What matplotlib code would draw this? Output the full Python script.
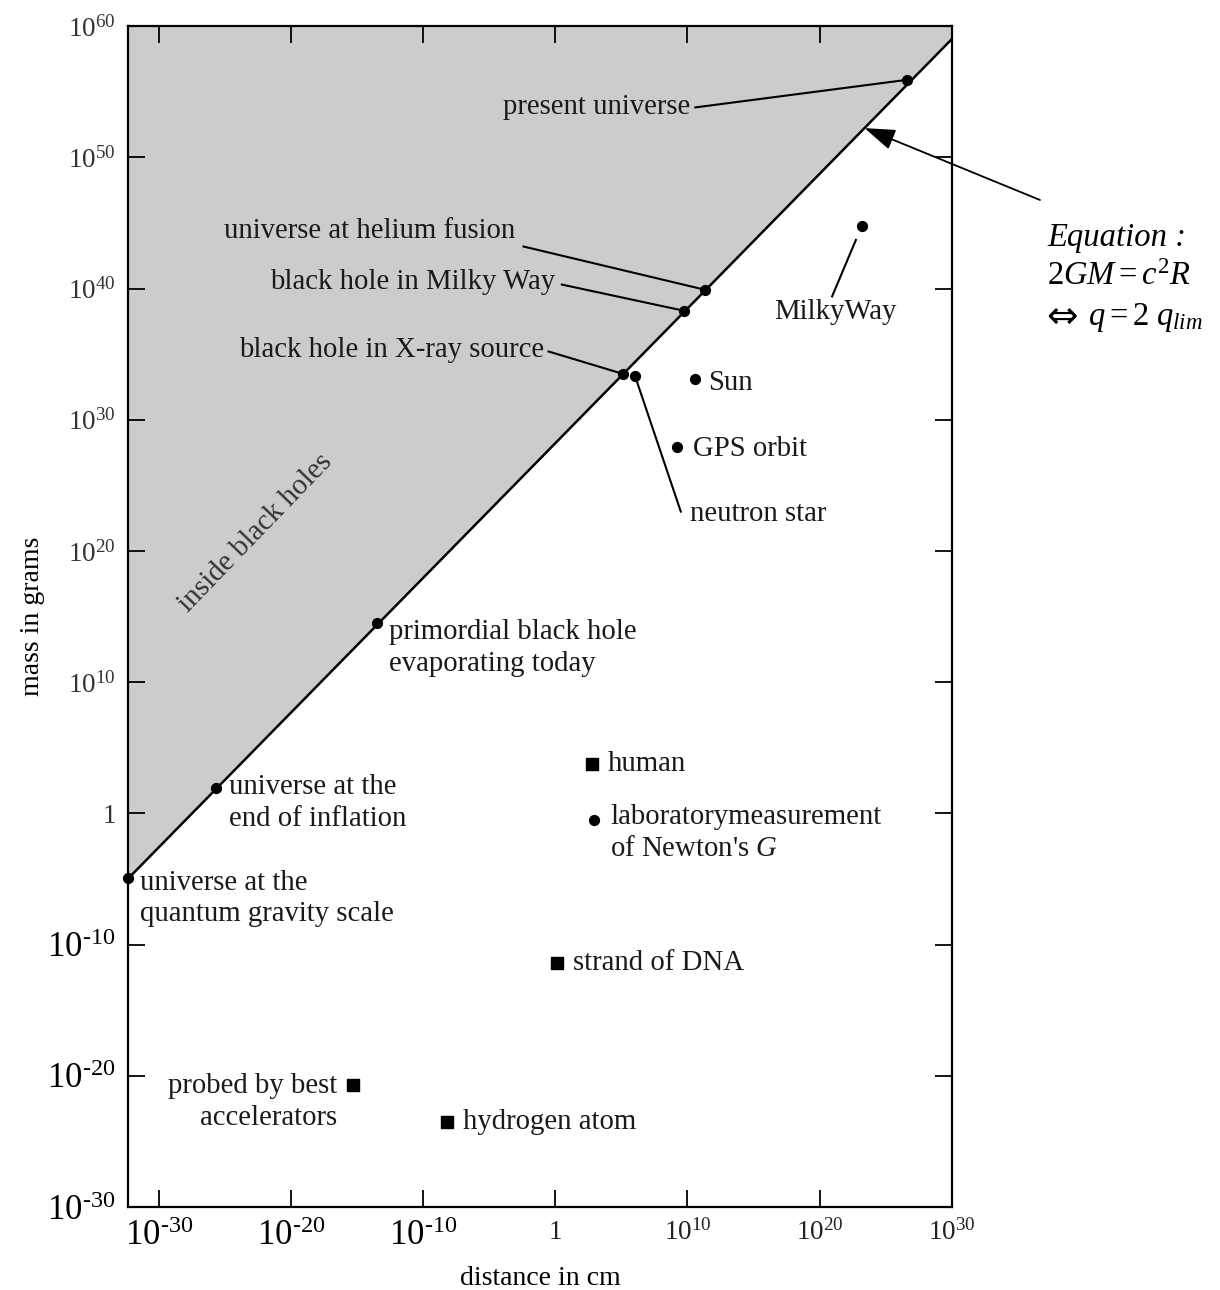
import matplotlib
matplotlib.use("Agg")
import matplotlib.pyplot as plt

plt.rcParams["font.family"] = ["Liberation Serif", "DejaVu Serif"]
plt.rcParams["mathtext.fontset"] = "custom"
plt.rcParams["mathtext.rm"] = "Liberation Serif"
plt.rcParams["mathtext.it"] = "Liberation Serif:italic"

# everything in log10: distance in cm, mass in grams
horizon_logr = [-32.3, 30.0]
horizon_logm = [-4.95, 59.0]

circle_names = [
    "quantum gravity", "end of inflation", "primordial black hole",
    "X-ray black hole", "neutron star", "Milky Way black hole",
    "helium fusion", "present universe", "Milky Way", "Sun",
    "GPS orbit", "Newton's G",
]
circle_logr = [-32.3, -25.7, -13.5, 5.1, 6.05, 9.75, 11.35, 26.6, 23.2, 10.6, 9.2, 2.9]
circle_logm = [-4.95, 1.9, 14.5, 33.5, 33.3, 38.3, 39.9, 55.9, 44.8, 33.1, 27.9, -0.5]

square_names = ["human", "strand of DNA", "accelerators", "hydrogen atom"]
square_logr = [2.8, 0.15, -15.3, -8.2]
square_logm = [3.8, -11.4, -20.7, -23.5]

x_tick_exps = [-30, -20, -10, 0, 10, 20, 30]
y_tick_exps = [-30, -20, -10, 0, 10, 20, 30, 40, 50, 60]


def p(v):
    return 10.0 ** v


def tick_label(e):
    if e == 0:
        return "1"
    if e < 0:
        return r"$\mathregular{10^{\text{-}%d}}$" % (-e)
    return r"$\mathregular{10^{%d}}$" % e


fig = plt.figure(figsize=(12.2, 12.9), dpi=100)
ax = fig.add_axes([0.1052, 0.0643, 0.6749, 0.9155])
ax.set_xscale("log")
ax.set_yscale("log")
ax.set_xlim(p(-32.3), p(30))
ax.set_ylim(p(-30), p(60))

# shaded region above the horizon line
hx = [p(v) for v in horizon_logr]
hy = [p(v) for v in horizon_logm]
ax.fill_between(hx, hy, p(60), color="#cccccc", zorder=0, lw=0)
ax.plot(hx, hy, color="black", lw=1.8, zorder=2)

ax.scatter([p(v) for v in circle_logr], [p(v) for v in circle_logm],
           s=50, color="black", marker="o", zorder=4, clip_on=False)
ax.scatter([p(v) for v in square_logr], [p(v) for v in square_logm],
           s=75, color="black", marker="s", zorder=4)

# leader lines: (start of line near the text) -> point index
leaders = [
    ((10.6, 53.8), 7),
    ((-2.4, 43.2), 6),
    ((0.5, 40.3), 5),
    ((-0.5, 35.2), 3),
    ((9.5, 23.0), 4),
]
for (lx, ly), i in leaders:
    ax.plot([p(lx), p(circle_logr[i])], [p(ly), p(circle_logm[i])],
            color="black", lw=1.5, zorder=3)
ax.plot([p(20.95), p(22.75)], [p(39.4), p(43.7)], color="black", lw=1.5, zorder=3)

txt = dict(fontsize=20.7, color="#1a1a1a", zorder=5, linespacing=1.27)
labels = [
    ("present universe", 10.2, 53.8, "right"),
    ("universe at helium fusion", -3.0, 44.4, "right"),
    ("black hole in Milky Way", 0.0, 40.5, "right"),
    ("black hole in X-ray source", -0.8, 35.3, "right"),
    ("Sun", 11.6, 32.8, "left"),
    ("GPS orbit", 10.4, 27.8, "left"),
    ("neutron star", 10.2, 22.8, "left"),
    ("MilkyWay", 21.2, 38.2, "center"),
    ("primordial black hole\nevaporating today", -12.6, 12.6, "left"),
    ("universe at the\nend of inflation", -24.7, 0.8, "left"),
    ("universe at the\nquantum gravity scale", -31.4, -6.5, "left"),
    ("human", 4.0, 3.8, "left"),
    ("laboratorymeasurement\nof Newton's $\\mathit{G}$", 4.15, -1.5, "left"),
    ("strand of DNA", 1.35, -11.4, "left"),
    ("probed by best\naccelerators", -16.5, -22.0, "right"),
    ("hydrogen atom", -6.95, -23.5, "left"),
]
for s, lx, ly, ha in labels:
    ax.text(p(lx), p(ly), s, ha=ha, va="center", multialignment=ha, **txt)

ax.text(p(-22.7), p(21.4), "inside black holes", rotation=46, ha="center",
        va="center", fontsize=21, color="#333333", rotation_mode="anchor")

# ticks
ax.minorticks_off()
ax.set_xticks([p(e) for e in x_tick_exps])
ax.set_yticks([p(e) for e in y_tick_exps])
ax.set_xticklabels([tick_label(e) for e in x_tick_exps])
ax.set_yticklabels([tick_label(e) for e in y_tick_exps])
ax.tick_params(which="major", direction="in", length=12, width=1.3,
               top=True, right=True, pad=9)
for e, lab in zip(x_tick_exps, ax.get_xticklabels()):
    lab.set_fontsize(25 if e < 0 else 19.5)
    lab.set_color("black" if e < 0 else "#222222")
for e, lab in zip(y_tick_exps, ax.get_yticklabels()):
    lab.set_fontsize(25 if e < 0 else 19.5)
    lab.set_color("black" if e < 0 else "#333333")

for sp in ax.spines.values():
    sp.set_linewidth(1.6)

ax.set_xlabel("distance in cm", fontsize=20, labelpad=10)
ax.set_ylabel("mass in grams", fontsize=20, labelpad=2)

# equation note outside the axes
eq_tip_r = 23.4
slope = (horizon_logm[1] - horizon_logm[0]) / (horizon_logr[1] - horizon_logr[0])
eq_tip_m = horizon_logm[0] + (eq_tip_r - horizon_logr[0]) * slope
ax.annotate("", xy=(p(eq_tip_r), p(eq_tip_m)), xycoords="data",
            xytext=(1040 / 1220, 1 - 200 / 1290),
            textcoords="figure fraction", annotation_clip=False,
            arrowprops=dict(arrowstyle="-|>,head_length=1.9,head_width=0.65",
                            color="black", lw=1.3, shrinkA=0, shrinkB=0))
eq = dict(fontsize=23.5, style="italic", ha="left", va="center")
fig.text(1047 / 1220, 1 - 238 / 1290, "Equation :", **eq)
fig.text(1047 / 1220, 1 - 277 / 1290, r"$\mathit{2GM} = \mathit{c^{2}R}$", **eq)
fig.text(1046 / 1220, 1 - 318 / 1290, "\u21d4", fontsize=27, family="DejaVu Sans",
         ha="left", va="center")
fig.text(1088 / 1220, 1 - 318 / 1290, r"$\mathit{q} = \mathit{2\ q_{lim}}$", **eq)

fig.savefig("out.png", dpi=100)
